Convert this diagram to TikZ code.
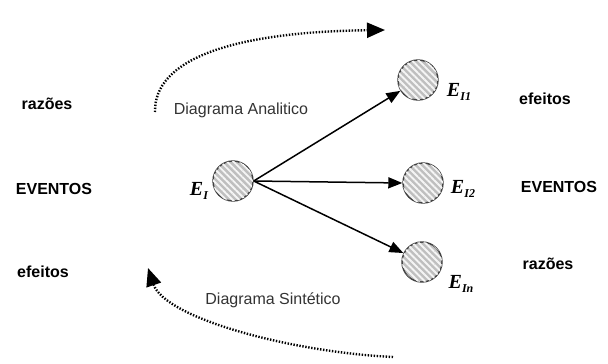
\documentclass[tikz,border=0pt]{standalone}
\usepackage{fontspec}
\setmainfont{Liberation Sans}
\newfontfamily\tnr{Liberation Serif}
\usetikzlibrary{arrows.meta,patterns.meta}
\newcommand{\evlabel}[1]{{\tnr\bfseries\itshape\fontsize{20}{20}\selectfont E\raisebox{-4pt}{\fontsize{12}{12}\selectfont #1}}}
\tikzset{
  ev/.style={circle, draw=black!75, line width=1.4pt, minimum size=40pt, inner sep=0pt,
    fill=gray!50, postaction={pattern={Lines[angle=-45,distance=4.6pt,line width=1.9pt]}, pattern color=white!92!gray}},
  side/.style={font=\fontsize{16}{16}\selectfont\bfseries, inner sep=0pt},
  diag/.style={font=\fontsize{16}{16}\selectfont, text=black!80, inner sep=0pt},
  elab/.style={inner sep=0pt},
  link/.style={line width=1.5pt, -{Triangle[length=14pt,width=11pt]}},
  flow/.style={line width=2.4pt, dash pattern=on 1.4pt off 1.6pt, -{Triangle[length=18pt,width=15pt]}}
}
\begin{document}
\begin{tikzpicture}[x=1pt,y=-1pt]
\useasboundingbox (0,0) rectangle (608,364);
% circles
\node[ev] (E) at (233,181) {};
\node[ev] (E1) at (418,80) {};
\node[ev] (E2) at (423,183) {};
\node[ev] (En) at (422,262) {};
% circle labels
\node[elab] (lE) at (199,191) {\evlabel{I}};
\node[elab] (lE1) at (459,92) {\evlabel{I1}};
\node[elab] (lE2) at (463,189) {\evlabel{I2}};
\node[elab] (lEn) at (461,284) {\evlabel{In}};
% arrows
\draw[link] (E.east) -- (E1);
\draw[link] (E.east) -- (E2.west);
\draw[link] (E.east) -- (En);
% side labels
\node[side] (l1) at (47,104) {razões};
\node[side] (l2) at (54,189) {EVENTOS};
\node[side] (l3) at (43,272) {efeitos};
\node[side] (r1) at (545,99) {efeitos};
\node[side] (r2) at (559,187) {EVENTOS};
\node[side] (r3) at (548,264) {razões};
% diagram labels
\node[diag] (da) at (241,110) {Diagrama Analitico};
\node[diag] (ds) at (273,300) {Diagrama Sintético};
% dotted flows
\coordinate (a0) at (155,112);
\coordinate (a1) at (385,30);
\coordinate (b0) at (393,357);
\coordinate (b1) at (148,268);
\draw[flow] (a0) .. controls (154,60) and (230,32) .. (a1);
\draw[flow] (b0) .. controls (290,352) and (165,318) .. (b1);
\end{tikzpicture}
\end{document}
